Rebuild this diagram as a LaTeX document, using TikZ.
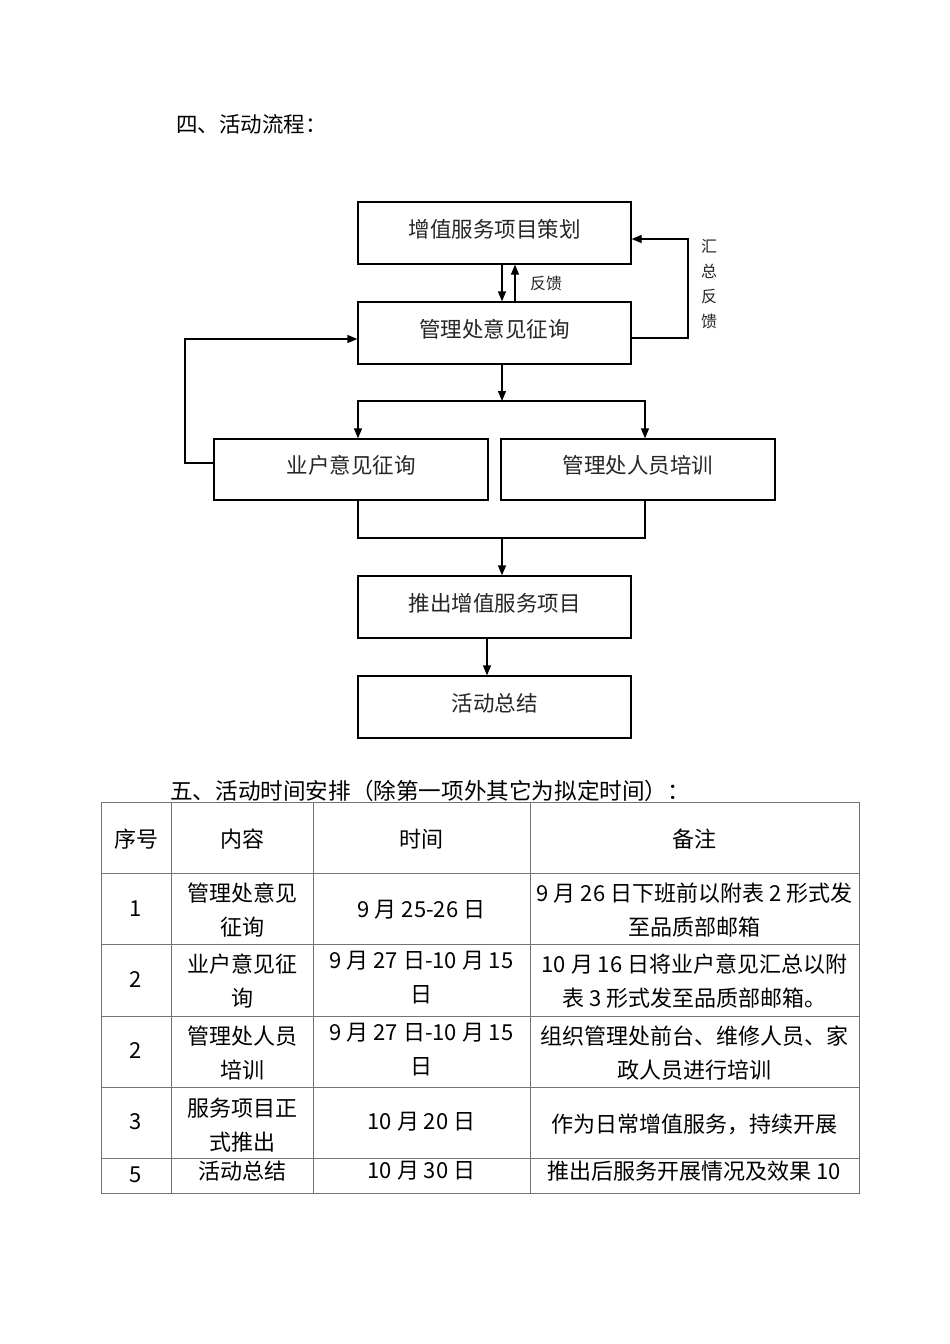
\documentclass[tikz,border=0pt]{standalone}
\usepackage{fontspec}
\setmainfont{Noto Sans CJK SC}
\usetikzlibrary{arrows.meta}
\begin{document}
\begin{tikzpicture}[x=1pt,y=-1pt,
  fbox/.style={draw=black,line width=1.3pt,minimum width=273pt,minimum height=62pt,inner sep=0pt,
    text height=15pt,text depth=7pt,
    font=\fontsize{21.5}{26}\selectfont,text=black!85},
  arr/.style={line width=1.3pt,-{Triangle[width=8pt,length=10pt]}},
  ln/.style={line width=1.3pt},
  small/.style={font=\fontsize{16}{25}\selectfont,text=black!85,inner sep=0pt},
  cell/.style={font=\fontsize{22}{34}\selectfont,align=center,inner sep=0pt,text=black},
  grid/.style={draw=black!55,line width=1pt},
  head/.style={font=\fontsize{21.5}{26}\selectfont,inner sep=0pt,anchor=west}]
\useasboundingbox[fill=white] (0,0) rectangle (950,1344);

% headings
\node[head] (h1) at (176,124) {四、活动流程：};
\node[head,font=\fontsize{22.6}{26}\selectfont] (h2) at (170,791) {五、活动时间安排（除第一项外其它为拟定时间）：};

% flowchart boxes
\node[fbox] (b1) at (494.5,233) {增值服务项目策划};
\node[fbox] (b2) at (494.5,333) {管理处意见征询};
\node[fbox,minimum width=274pt,minimum height=61pt] (b3) at (351,469.5) {业户意见征询};
\node[fbox,minimum width=274pt,minimum height=61pt] (b4) at (638,469.5) {管理处人员培训};
\node[fbox] (b5) at (494.5,607) {推出增值服务项目};
\node[fbox] (b6) at (494.5,707) {活动总结};

% b1 <-> b2
\draw[arr] ([xshift=7.5pt]b1.south) -- ([xshift=7.5pt]b2.north);
\draw[arr] ([xshift=20.5pt]b2.north) -- ([xshift=20.5pt]b1.south);
\node[small] (fk) at (546,283) {反馈};

% right feedback loop
\coordinate (rr) at (688,239);
\draw[arr] ([yshift=-5pt]b2.east) -| (rr) -- (b1.east |- rr);
\node[small,align=center] (hz) at (709,284) {汇\\总\\反\\馈};

% left loop
\coordinate (ll) at (185,339);
\draw[arr] ([yshift=6.5pt]b3.west) -| (ll) -- (b2.west |- ll);

% split
\coordinate (split) at (502,401);
\draw[arr] ([xshift=7.5pt]b2.south) -- (split);
\draw[arr] (split) -| ([xshift=7pt]b3.north);
\draw[arr] (split) -| ([xshift=7pt]b4.north);

% merge
\coordinate (merge) at (502,538);
\draw[ln] ([xshift=7pt]b3.south) |- (merge);
\draw[ln] ([xshift=7pt]b4.south) |- (merge);
\draw[arr] (merge) -- (merge |- b5.north);
\draw[arr] ([xshift=-7.5pt]b5.south) -- ([xshift=-7.5pt]b6.north);

% table grid
\draw[grid] (101,802) rectangle (859,1193);
\foreach \x in {171,313,530} \draw[grid] (\x,802) -- (\x,1193);
\foreach \y in {873,944,1016,1087,1158} \draw[grid] (101,\y) -- (859,\y);

% header
\node[cell] (t00) at (136,839) {序号};
\node[cell] (t01) at (242,839) {内容};
\node[cell] (t02) at (421.5,839) {时间};
\node[cell] (t03) at (694.5,839) {备注};
% row 1
\node[cell] (t10) at (136,909) {1};
\node[cell] (t11) at (242,910) {管理处意见\\征询};
\node[cell] (t12) at (421.5,910) {9 月 25-26 日};
\node[cell] (t13) at (694.5,910) {9 月 26 日下班前以附表 2 形式发\\至品质部邮箱};
% row 2
\node[cell] (t20) at (136,980) {2};
\node[cell] (t21) at (242,981) {业户意见征\\询};
\node[cell] (t22) at (421.5,978) {9 月 27 日-10 月 15\\日};
\node[cell] (t23) at (694.5,981) {10 月 16 日将业户意见汇总以附\\表 3 形式发至品质部邮箱。};
% row 3
\node[cell] (t30) at (136,1051) {2};
\node[cell] (t31) at (242,1053) {管理处人员\\培训};
\node[cell] (t32) at (421.5,1050) {9 月 27 日-10 月 15\\日};
\node[cell] (t33) at (694.5,1053) {组织管理处前台、维修人员、家\\政人员进行培训};
% row 4
\node[cell] (t40) at (136,1122) {3};
\node[cell] (t41) at (242,1125) {服务项目正\\式推出};
\node[cell] (t42) at (421.5,1122) {10 月 20 日};
\node[cell] (t43) at (694.5,1124) {作为日常增值服务，持续开展};
% row 5
\node[cell] (t50) at (136,1175) {5};
\node[cell] (t51) at (242,1171) {活动总结};
\node[cell] (t52) at (421.5,1171) {10 月 30 日};
\node[cell] (t53) at (694.5,1171) {推出后服务开展情况及效果 10};
\end{tikzpicture}
\end{document}
